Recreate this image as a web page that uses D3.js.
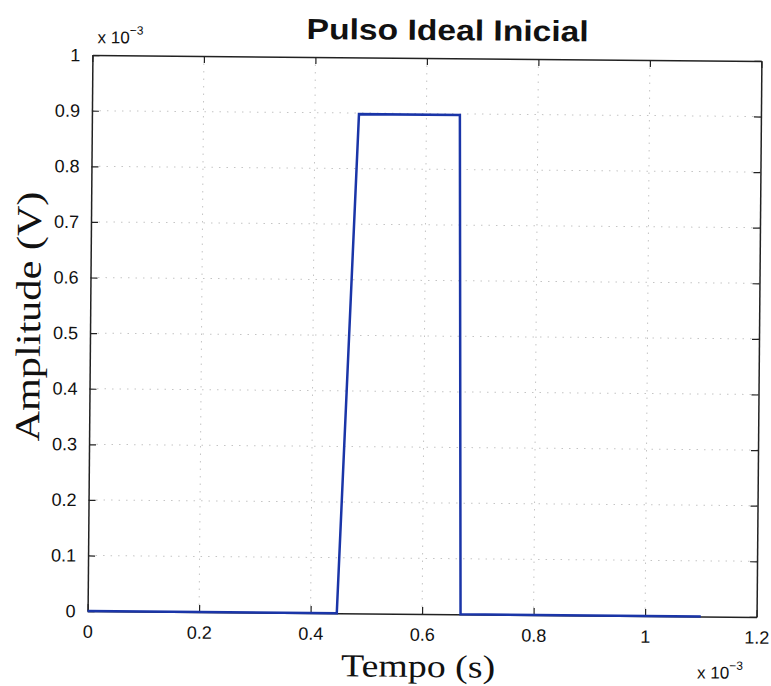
<!DOCTYPE html>
<html>
<head>
<meta charset="utf-8">
<script src="https://cdn.jsdelivr.net/npm/d3@7"></script>
<style>
  body { margin: 0; background: #fff; }
  svg { display: block; }
</style>
</head>
<body>
<div id="canvas"></div>
<script>
"use strict";

// Canvas setup
let svgWidth = 771;
let svgHeight = 686;
let margin = { top: 58, right: 12, bottom: 72, left: 90 };
let chartWidth = svgWidth - margin.left - margin.right;
let chartHeight = svgHeight - margin.top - margin.bottom;
let tilt = 0.5; // the source picture is a slightly rotated scan

// Data (values in units of 1e-3)
let tempo = [0, 0.447, 0.479, 0.660, 0.669, 1.1];
let amplitude = [0, 0, 0.898, 0.898, 0, 0];
let xTicks = [0, 0.2, 0.4, 0.6, 0.8, 1, 1.2];
let yTicks = [0, 0.1, 0.2, 0.3, 0.4, 0.5, 0.6, 0.7, 0.8, 0.9, 1];

let points = tempo.map(function(t, i){ return { t: t, a: amplitude[i] }; });

let svg = d3.select("#canvas")
  .append("svg")
  .attr("width", svgWidth)
  .attr("height", svgHeight);

let page = svg.append("g")
  .attr("transform", "rotate(" + tilt + "," + (margin.left + chartWidth / 2) + "," + (margin.top + chartHeight / 2) + ")");

let chartArea = page.append("g")
  .attr("transform", "translate(" + margin.left + "," + margin.top + ")");

// Scales
let xScale = d3.scaleLinear().domain([0, 1.2]).range([0, chartWidth]);
let yScale = d3.scaleLinear().domain([0, 1]).range([chartHeight, 0]);

// Grid (dotted)
chartArea.append("g")
  .selectAll("line")
  .data(xTicks.slice(1, -1))
  .enter().append("line")
  .attr("x1", function(d){ return xScale(d); })
  .attr("x2", function(d){ return xScale(d); })
  .attr("y1", 0).attr("y2", chartHeight)
  .attr("stroke", "#c4c4c4").attr("stroke-dasharray", "1.5,6");
chartArea.append("g")
  .selectAll("line")
  .data(yTicks.slice(1, -1))
  .enter().append("line")
  .attr("y1", function(d){ return yScale(d); })
  .attr("y2", function(d){ return yScale(d); })
  .attr("x1", 0).attr("x2", chartWidth)
  .attr("stroke", "#c4c4c4").attr("stroke-dasharray", "1.5,6");

// Axes (MATLAB style: ticks inside, box on all sides)
let fmt = function(d){ return d3.format("~g")(d); };
let xAxis = chartArea.append("g")
  .attr("transform", "translate(0," + chartHeight + ")")
  .call(d3.axisBottom(xScale).tickValues(xTicks).tickFormat(fmt).tickSizeInner(-7).tickSizeOuter(0).tickPadding(14));
let xAxisTop = chartArea.append("g")
  .call(d3.axisTop(xScale).tickValues(xTicks).tickFormat("").tickSizeInner(-7).tickSizeOuter(0));
let yAxis = chartArea.append("g")
  .call(d3.axisLeft(yScale).tickValues(yTicks).tickFormat(fmt).tickSizeInner(-7).tickSizeOuter(0).tickPadding(12));
let yAxisRight = chartArea.append("g")
  .attr("transform", "translate(" + chartWidth + ",0)")
  .call(d3.axisRight(yScale).tickValues(yTicks).tickFormat("").tickSizeInner(-7).tickSizeOuter(0));

[xAxis, xAxisTop, yAxis, yAxisRight].forEach(function(ax){
  ax.selectAll("path").attr("stroke", "#222").attr("stroke-width", 1.5);
  ax.selectAll("line").attr("stroke", "#222").attr("stroke-width", 1.2);
  ax.selectAll("text")
    .style("font-family", "Liberation Sans, Arial, sans-serif")
    .style("font-size", "18px")
    .attr("fill", "#111");
});

// Pulse line
let line = d3.line()
  .x(function(d){ return xScale(d.t); })
  .y(function(d){ return yScale(d.a); });
chartArea.append("path")
  .datum(points)
  .attr("d", line)
  .attr("fill", "none")
  .attr("stroke", "#1a35a8")
  .attr("stroke-width", 2.5)
  .attr("stroke-linejoin", "miter");

// Exponent labels
function exponentLabel(x, y) {
  let t = page.append("text")
    .attr("x", x).attr("y", y)
    .style("font-family", "Liberation Sans, Arial, sans-serif")
    .style("font-size", "17px")
    .attr("fill", "#111");
  t.append("tspan").text("x 10");
  t.append("tspan").attr("dy", -9).style("font-size", "12px").text("−3");
}
exponentLabel(95, 46);
exponentLabel(700, 676);

// Title
page.append("text")
  .attr("x", 445).attr("y", 40)
  .attr("text-anchor", "middle")
  .attr("textLength", 282)
  .attr("lengthAdjust", "spacingAndGlyphs")
  .style("font-family", "Liberation Sans, Arial, sans-serif")
  .style("font-size", "29px")
  .style("font-weight", "700")
  .attr("fill", "#111")
  .text("Pulso Ideal Inicial");

// Axis labels
page.append("text")
  .attr("x", 421).attr("y", 677)
  .attr("text-anchor", "middle")
  .attr("textLength", 154)
  .attr("lengthAdjust", "spacingAndGlyphs")
  .style("font-family", "Liberation Serif, Times New Roman, serif")
  .style("font-size", "32px")
  .attr("fill", "#111")
  .text("Tempo (s)");
page.append("text")
  .attr("transform", "translate(40,320) rotate(-90)")
  .attr("text-anchor", "middle")
  .attr("textLength", 250)
  .attr("lengthAdjust", "spacingAndGlyphs")
  .style("font-family", "Liberation Serif, Times New Roman, serif")
  .style("font-size", "35px")
  .attr("fill", "#111")
  .text("Amplitude (V)");
</script>
</body>
</html>
